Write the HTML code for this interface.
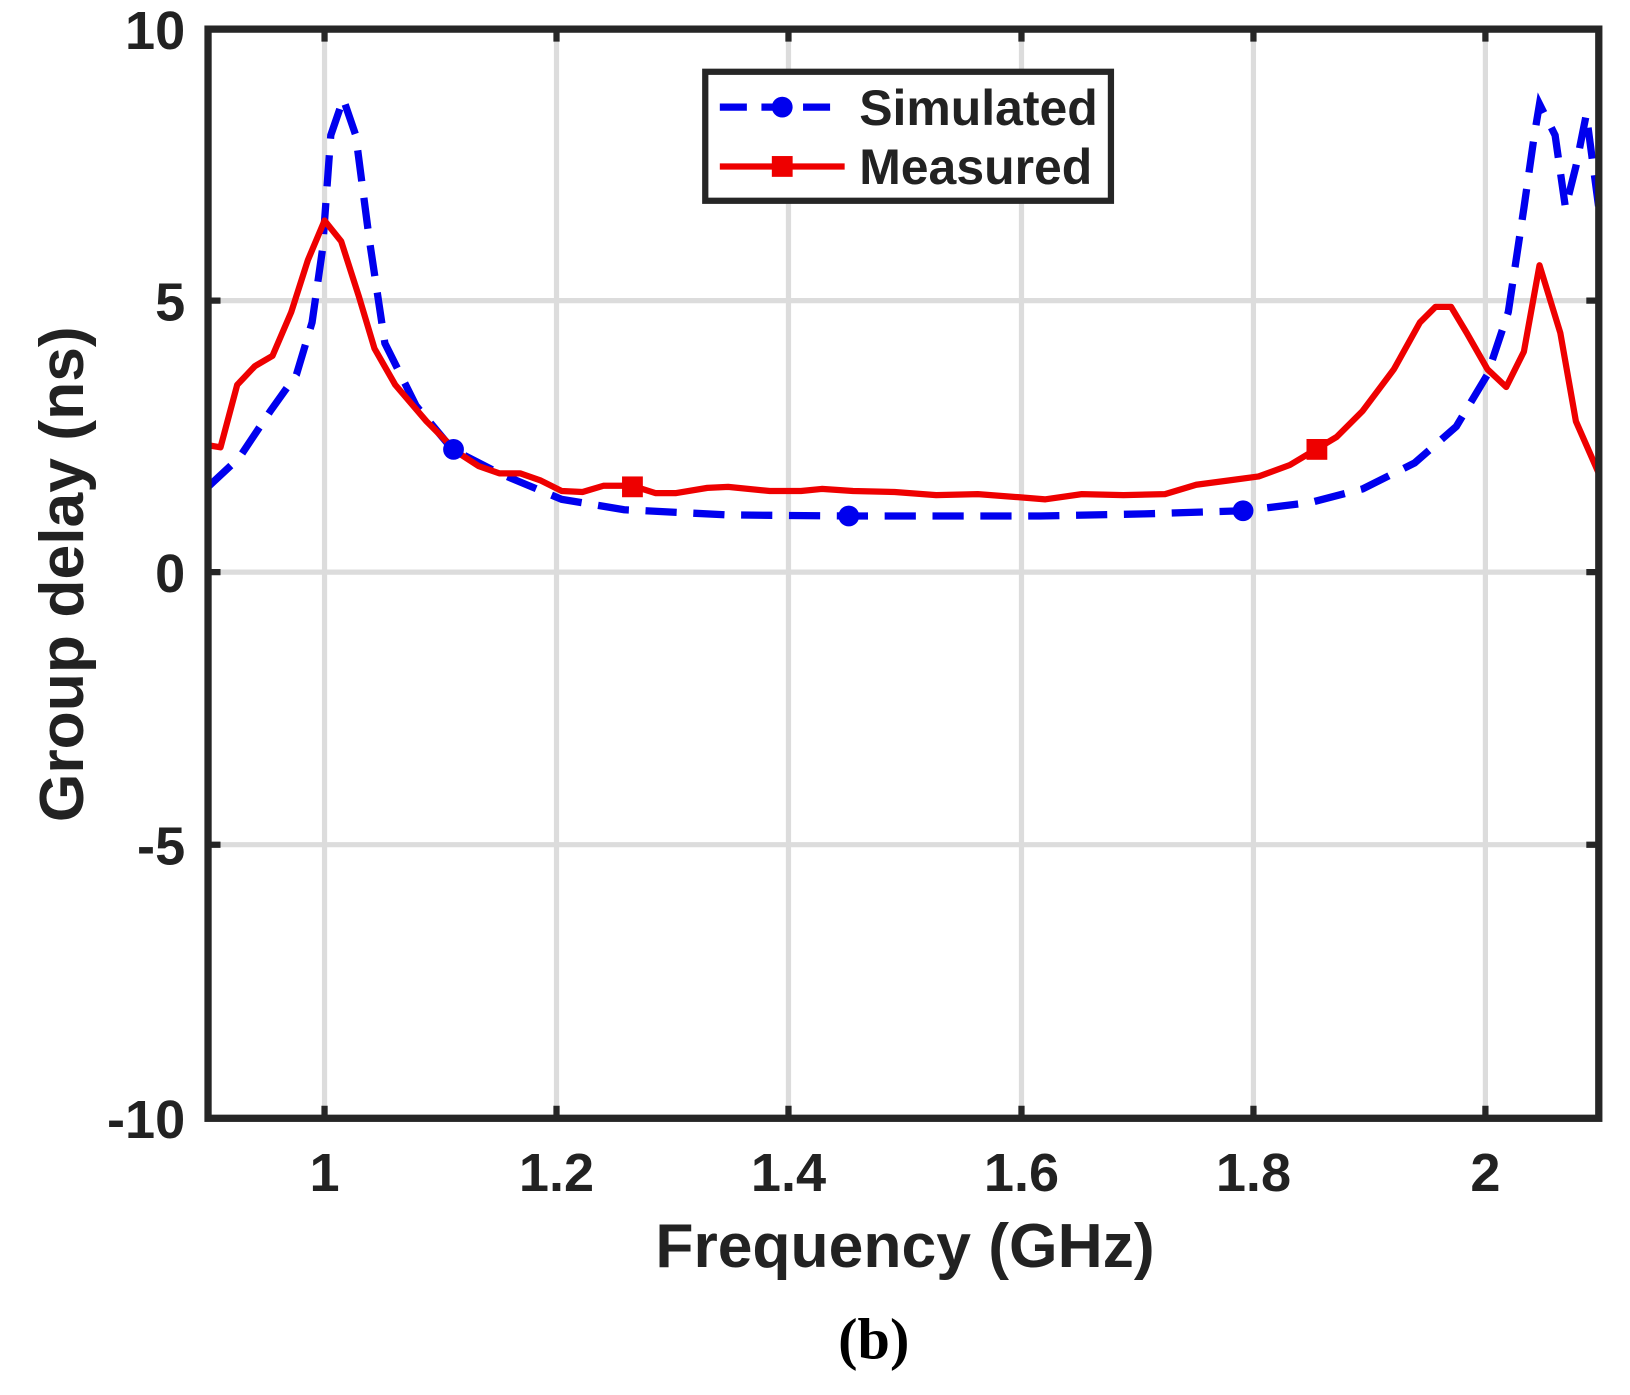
<!DOCTYPE html>
<html><head><meta charset="utf-8"><style>
html,body{margin:0;padding:0;background:#fff;}
svg{display:block;}
text{font-family:"Liberation Sans Narrow","Liberation Sans",Arial,sans-serif;font-weight:bold;fill:#222;}
</style></head><body>
<svg width="1630" height="1395" viewBox="0 0 1567 1341" preserveAspectRatio="none" xmlns="http://www.w3.org/2000/svg">
<rect width="1567" height="1341" fill="#fff"/>
<g stroke="#dcdcdc" stroke-width="5">
<line x1="312" y1="28" x2="312" y2="1075"/><line x1="535" y1="28" x2="535" y2="1075"/>
<line x1="758" y1="28" x2="758" y2="1075"/><line x1="982" y1="28" x2="982" y2="1075"/>
<line x1="1205" y1="28" x2="1205" y2="1075"/><line x1="1428" y1="28" x2="1428" y2="1075"/>
<line x1="200" y1="289" x2="1537" y2="289"/><line x1="200" y1="550" x2="1537" y2="550"/>
<line x1="200" y1="812" x2="1537" y2="812"/>
</g>
<g stroke="#262626" stroke-width="6">
<path d="M312 28v12M535 28v12M758 28v12M982 28v12M1205 28v12M1428 28v12M312 1075v-12M535 1075v-12M758 1075v-12M982 1075v-12M1205 1075v-12M1428 1075v-12M200 289h12M200 550h12M200 812h12M1537 289h-12M1537 550h-12M1537 812h-12"/>
</g>
<polyline fill="none" stroke="#0000ee" stroke-width="7" stroke-dasharray="30,16" points="200,468 230,440 260,395 285,360 300,310 310,240 318,130 330,95 342,130 355,230 370,330 400,390 435,432 480,455 540,480 600,490 700,495 816,496 1000,496 1100,494 1195,491 1260,483 1310,470 1360,445 1400,410 1430,360 1450,300 1465,200 1475,130 1480,100 1495,130 1505,200 1515,160 1525,110 1537,200"/>
<polyline fill="none" stroke="#ee0000" stroke-width="6" stroke-linejoin="round" points="200,428 212,430 228,370 245,352 262,342 280,300 296,250 312,212 328,232 345,285 360,335 380,370 410,405 440,435 460,448 480,455 500,455 520,462 540,472 560,473 580,467 608,467 630,474 650,474 680,469 700,468 740,472 770,472 790,470 820,472 860,473 900,476 940,475 980,478 1005,480 1040,475 1080,476 1120,475 1150,466 1180,462 1210,458 1240,447 1265,432 1285,420 1310,395 1340,355 1365,310 1380,295 1395,295 1410,320 1430,355 1448,372 1465,338 1480,255 1500,320 1515,405 1537,455"/>
<g fill="#0000ee"><circle cx="436" cy="432" r="10"/><circle cx="816" cy="496" r="10"/><circle cx="1195" cy="491" r="10"/></g>
<g fill="#ee0000"><rect x="598" y="458" width="20" height="20"/><rect x="1256" y="422" width="20" height="20"/></g>
<rect x="200" y="28" width="1337" height="1047" fill="none" stroke="#262626" stroke-width="7"/>
<rect x="678" y="69" width="390" height="124" fill="#fff" stroke="#262626" stroke-width="6"/>
<line x1="692" y1="103" x2="812" y2="103" stroke="#0000ee" stroke-width="7" stroke-dasharray="26,14"/>
<circle cx="752" cy="103" r="10" fill="#0000ee"/>
<line x1="692" y1="160" x2="812" y2="160" stroke="#ee0000" stroke-width="6"/>
<rect x="742" y="150" width="20" height="20" fill="#ee0000"/>
<text x="826" y="120" font-size="48">Simulated</text>
<text x="826" y="177" font-size="48">Measured</text>
<g font-size="52" text-anchor="end">
<text x="178" y="47">10</text><text x="178" y="308">5</text><text x="178" y="569">0</text>
<text x="178" y="831">-5</text><text x="178" y="1094">-10</text>
</g>
<g font-size="52" text-anchor="middle">
<text x="312" y="1145">1</text><text x="535" y="1145">1.2</text><text x="758" y="1145">1.4</text>
<text x="982" y="1145">1.6</text><text x="1205" y="1145">1.8</text><text x="1428" y="1145">2</text>
</g>
<text x="870" y="1218" font-size="60" text-anchor="middle">Frequency (GHz)</text>
<text transform="translate(80,552) rotate(-90)" font-size="60" text-anchor="middle">Group delay (ns)</text>
<text x="840" y="1306" font-size="56" text-anchor="middle" style="font-family:'Liberation Serif',serif;fill:#000">(b)</text>
</svg>
</body></html>
